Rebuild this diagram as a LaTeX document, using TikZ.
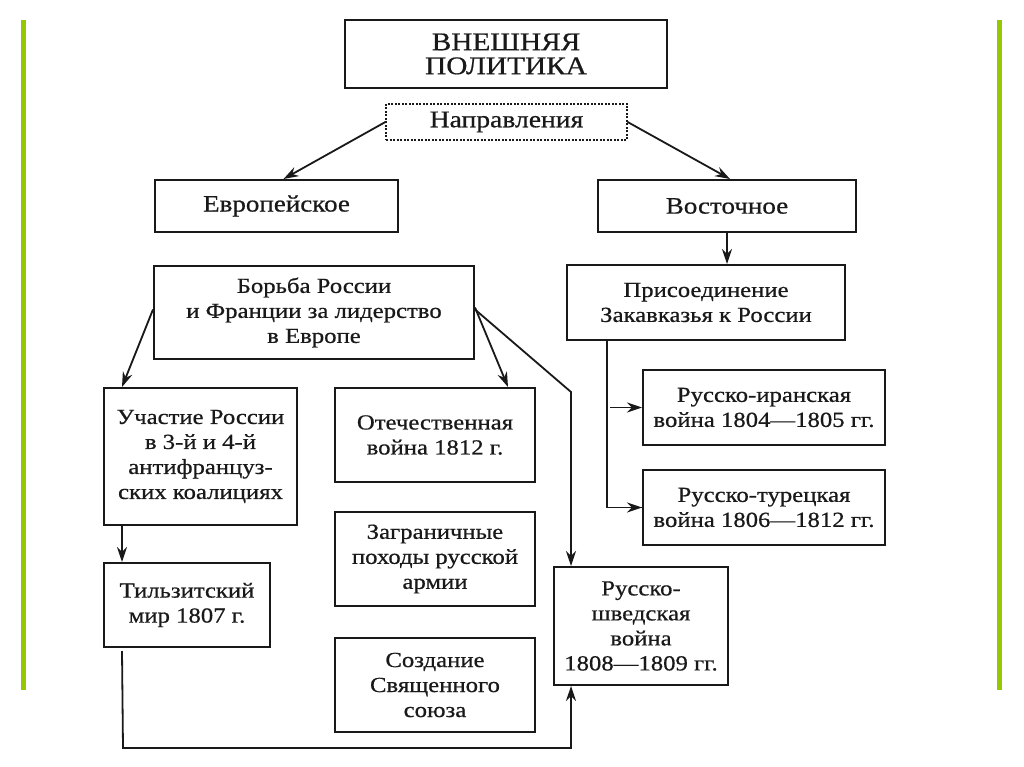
\documentclass[tikz,border=0pt]{standalone}
\usepackage{fontspec}
\setmainfont{Liberation Serif}[FakeStretch=1.15,FakeBold=0.6]
\usetikzlibrary{arrows.meta,calc}
\definecolor{ink}{RGB}{25,25,25}
\definecolor{slidegreen}{RGB}{150,200,0}
\begin{document}
\begin{tikzpicture}[x=1pt,y=-1pt,
  box/.style={draw=ink, line width=2pt, inner sep=0pt, align=center, text=ink,
    font=\fontsize{21.5}{25}\selectfont},
  conn/.style={draw=ink, line width=1.8pt},
  arr/.style={conn, -{Stealth[length=15pt,width=10pt]}}]
\fill[white] (0,0) rectangle (1024,767);
\useasboundingbox (0,0) rectangle (1024,767);
\fill[slidegreen] (21,20) rectangle (26,690);
\fill[slidegreen] (997,20) rectangle (1002,690);

\node[box, minimum width=322pt, minimum height=68pt, font=\fontsize{25.5}{24}\selectfont] (title) at (506,54) {ВНЕШНЯЯ\\ПОЛИТИКА};
\node[box, dashed, line width=1.2pt, dash pattern=on 2pt off 1.5pt, minimum width=241pt, minimum height=36pt, font=\fontsize{24}{25}\selectfont] (napr) at (506.5,122) {Направления};
\node[box, minimum width=243pt, minimum height=52pt, font=\fontsize{23.5}{25}\selectfont] (evro) at (276.5,206) {Европейское};
\node[box, minimum width=258pt, minimum height=52pt, font=\fontsize{23.5}{25}\selectfont] (vost) at (727,206) {Восточное};
\node[box, minimum width=278pt, minimum height=75pt] (prisoed) at (706,302.5) {Присоединение\\Закавказья к России};
\node[box, minimum width=320pt, minimum height=93pt] (borba) at (314,312.5) {Борьба России\\и Франции за лидерство\\в Европе};
\node[box, minimum width=193pt, minimum height=137pt] (uchast) at (200.5,456.5) {Участие России\\в 3-й и 4-й\\антифранцуз-\\ских коалициях};
\node[box, minimum width=166pt, minimum height=84pt] (tilz) at (187,605) {Тильзитский\\мир 1807 г.};
\node[box, minimum width=200pt, minimum height=94pt] (otech) at (435,435) {Отечественная\\война 1812 г.};
\node[box, minimum width=200pt, minimum height=94pt] (zagran) at (435,559) {Заграничные\\походы русской\\армии};
\node[box, minimum width=200pt, minimum height=94pt] (sozd) at (435,685) {Создание\\Священного\\союза};
\node[box, minimum width=174pt, minimum height=118pt] (shved) at (641,626) {Русско-\\шведская\\война\\1808—1809 гг.};
\node[box, minimum width=242pt, minimum height=75pt] (iran) at (764,407.5) {Русско-иранская\\война 1804—1805 гг.};
\node[box, minimum width=242pt, minimum height=75pt] (turk) at (764,507.5) {Русско-турецкая\\война 1806—1812 гг.};

\coordinate (branch) at ([xshift=-99pt]prisoed.south);
\coordinate (bend) at (571,392);
\coordinate (low) at (123,748);

\draw[arr] (napr.west) -- ([xshift=7pt]evro.north);
\draw[arr] (napr.east) -- ([xshift=3pt]vost.north);
\draw[arr] (vost.south) -- (vost.south |- prisoed.north);
\draw[conn] (branch) |- (turk.west);
\draw[arr] (branch |- turk.west) -- (turk.west);
\draw[arr] ([xshift=3pt]branch |- iran.west) -- (iran.west);
\draw[arr] ([yshift=3pt]borba.west) -- ([xshift=19pt]uchast.north west);
\draw[arr] ([yshift=5pt]borba.east) -- ([xshift=-28pt]otech.north east);
\draw[arr] ([yshift=3pt]borba.east) -- (bend) -- (bend |- shved.north);
\draw[arr] ([xshift=19pt]uchast.south west) -- ([xshift=19pt]tilz.north west);
\draw[arr] ([xshift=19pt,yshift=-3pt]tilz.south west) -- (low) -| (bend |- shved.south);
\end{tikzpicture}
\end{document}
